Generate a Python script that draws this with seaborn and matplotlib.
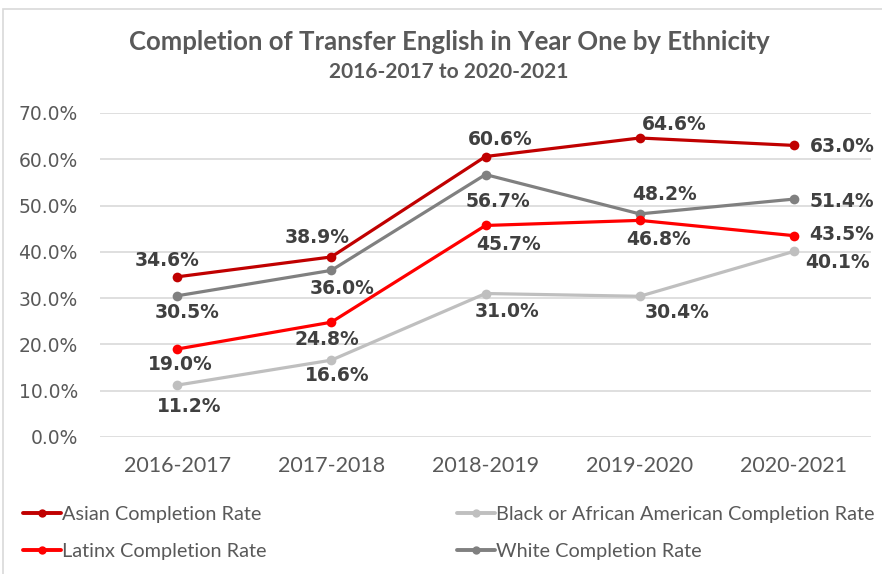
import matplotlib
matplotlib.use("Agg")
import matplotlib.pyplot as plt
import seaborn as sns
import pandas as pd
from matplotlib.lines import Line2D
from matplotlib.patches import Rectangle

years = ["2016-2017", "2017-2018", "2018-2019", "2019-2020", "2020-2021"]
asian = [34.6, 38.9, 60.6, 64.6, 63.0]
black = [11.2, 16.6, 31.0, 30.4, 40.1]
latinx = [19.0, 24.8, 45.7, 46.8, 43.5]
white = [30.5, 36.0, 56.7, 48.2, 51.4]
series_names = ["Asian Completion Rate", "Black or African American Completion Rate",
                "Latinx Completion Rate", "White Completion Rate"]
yticks = [0, 10, 20, 30, 40, 50, 60, 70]

colors = {"Asian Completion Rate": "#C00000",
          "Black or African American Completion Rate": "#BFBFBF",
          "Latinx Completion Rate": "#FF0000",
          "White Completion Rate": "#808080"}
# data-label offsets in pixels (dx, dy) and horizontal alignment
label_off = {"Asian Completion Rate": [(-10, 16, "c"), (-14, 19, "c"), (15, 17, "c"), (35, 13, "c"), (16, -1, "l")],
             "Black or African American Completion Rate": [(12, -21, "c"), (6, -15.5, "c"), (22, -17.5, "c"), (37, -16, "c"), (11, -11, "l")],
             "Latinx Completion Rate": [(3, -15, "c"), (-4, -17.5, "c"), (23, -19.5, "c"), (18.5, -19, "c"), (15, 1, "l")],
             "White Completion Rate": [(10, -16.5, "c"), (11, -18, "c"), (12, -27, "c"), (25, 19, "c"), (16, -2, "l")]}

vals = {series_names[0]: asian, series_names[1]: black,
        series_names[2]: latinx, series_names[3]: white}
rows = []
for s in series_names:
    for i, y in enumerate(years):
        rows.append({"Year": y, "Series": s, "Value": vals[s][i]})
df = pd.DataFrame(rows)

sns.set_theme(style="white")
W, H = 882, 574
fig = plt.figure(figsize=(W / 100, H / 100), dpi=100)
ax = fig.add_axes([100 / W, 1 - 437 / H, (871 - 100) / W, (437 - 113) / H])

text_gray = "#595959"
label_gray = "#404040"

ax.set_ylim(0, 70)
ax.set_xlim(-0.5, 4.5)
ax.set_yticks(yticks)
ax.yaxis.grid(True, color="#D9D9D9", linewidth=1.2)
ax.set_axisbelow(True)

draw_order = ["Black or African American Completion Rate", "White Completion Rate",
              "Latinx Completion Rate", "Asian Completion Rate"]
for s in draw_order:
    sub = df[df.Series == s]
    sns.lineplot(data=sub, x="Year", y="Value", ax=ax, color=colors[s],
                 linewidth=2.3, marker="o", markersize=7, markeredgewidth=0,
                 legend=False, sort=False, zorder=3)

for s in series_names:
    for i, v in enumerate(vals[s]):
        dx, dy, al = label_off[s][i]
        ax.annotate(f"{v:.1f}%", (i, v), xytext=(dx, dy), textcoords="offset pixels",
                    ha="center" if al == "c" else "left", va="center",
                    fontsize=13.5, fontweight="bold", color=label_gray,
                    family="DejaVu Sans", zorder=5)

ax.set_xticks(range(len(years)))
ax.set_xticklabels(years, fontsize=15.5, color=text_gray, family="Lato")
ax.set_yticklabels([f"{t:.1f}%" for t in yticks], fontsize=13.5, color=text_gray, family="DejaVu Sans")
ax.tick_params(axis="x", length=0, pad=14)
ax.tick_params(axis="y", length=0, pad=16)
ax.set_xlabel("")
ax.set_ylabel("")
for sp in ax.spines.values():
    sp.set_visible(False)

fig.text(449 / W, 1 - 42 / H, "Completion of Transfer English in Year One by Ethnicity",
         ha="center", va="center", fontsize=18.5, fontweight="bold", color=text_gray, family="Lato")
fig.text(449 / W, 1 - 72 / H, "2016-2017 to 2020-2021",
         ha="center", va="center", fontsize=15, fontweight="bold", color=text_gray, family="Lato")

# chart border
fig.patches.append(Rectangle((3 / W, -0.1), 1.2, 1 - 9 / H + 0.1, transform=fig.transFigure,
                             fill=False, edgecolor="#D9D9D9", linewidth=1.2, zorder=0))


def make_legend(names, x_px):
    hs = [Line2D([0], [0], color=colors[s], linewidth=2.8, marker="o", markersize=6,
                 markeredgewidth=0) for s in names]
    lg = fig.legend(hs, names, loc="center left", bbox_to_anchor=(x_px / W, 1 - 533 / H),
                    ncol=1, frameon=False, handlelength=1.9, handletextpad=0.05,
                    labelspacing=1.05, borderpad=0, borderaxespad=0,
                    prop={"family": "Lato", "size": 14.3})
    for t in lg.get_texts():
        t.set_color(text_gray)
    return lg


make_legend(["Asian Completion Rate", "Latinx Completion Rate"], 23)
make_legend(["Black or African American Completion Rate", "White Completion Rate"], 457)

fig.savefig("out.png", dpi=100)
